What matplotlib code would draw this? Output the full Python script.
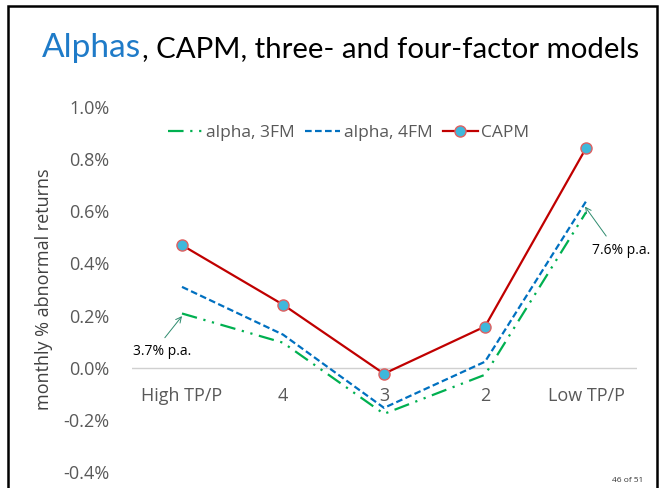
import matplotlib.pyplot as plt
from matplotlib.patches import Rectangle

categories = ['High TP/P', '4', '3', '2', 'Low TP/P']
capm = [0.47, 0.242, -0.023, 0.158, 0.842]
alpha_4fm = [0.31, 0.127, -0.154, 0.023, 0.638]
alpha_3fm = [0.208, 0.096, -0.177, -0.027, 0.596]
yticks = [-0.4, -0.2, 0.0, 0.2, 0.4, 0.6, 0.8, 1.0]

plt.rcParams['font.family'] = ['Open Sans', 'DejaVu Sans']

fig = plt.figure(figsize=(6.65, 4.88), dpi=100)

# slide frame
fig.patches.append(Rectangle((8 / 665, -0.05), 649 / 665, 1 - 6 / 488 + 0.05,
                             transform=fig.transFigure, fill=False,
                             edgecolor='black', lw=1.8))

# title in two colours, second part placed right after the first
t1 = fig.text(42 / 665, 1 - 57 / 488, 'Alphas', color='#1F7BC8', fontsize=24,
              family=['Lato', 'DejaVu Sans'], va='baseline')
fig.canvas.draw()
bb = t1.get_window_extent()
fig.text(bb.x1 / 665 + 0.001, 1 - 57 / 488, ', CAPM, three- and four-factor models',
         color='black', fontsize=21.2, family=['Lato', 'DejaVu Sans'],
         va='baseline')
fig.text(612 / 665, 1 - 482 / 488, '46 of 51', fontsize=6, color='#333333')

ax = fig.add_axes([131.5 / 665, 16 / 488, 505 / 665, 365 / 488])
x = list(range(len(categories)))

ax.plot(x, alpha_3fm, color='#00B050', lw=1.6, dashes=[7, 3, 1, 3, 1, 3],
        label='alpha, 3FM')
ax.plot(x, alpha_4fm, color='#0070C0', lw=1.6, dashes=[3, 1.5],
        label='alpha, 4FM')
ax.plot(x, capm, color='#C00000', lw=1.6, marker='o', markersize=8,
        markerfacecolor='#3FB8DB', markeredgecolor='#E06060', markeredgewidth=1,
        label='CAPM')

ax.axhline(0, color='#D0D0D0', lw=1, zorder=0)
ax.set_xlim(-0.5, 4.5)
ax.set_ylim(-0.4, 1.0)
ax.set_yticks(yticks)
ax.set_yticklabels([f'{v:.1f}%' for v in yticks])
ax.tick_params(axis='y', length=0, pad=16, labelsize=13, labelcolor='#595959')
ax.set_xticks([])
for s in ax.spines.values():
    s.set_visible(False)

for i, c in enumerate(categories):
    ax.text(i, -0.11, c, ha='center', va='center', fontsize=13, color='#595959')

ax.set_ylabel('monthly % abnormal returns', fontsize=13, color='#404040')
ax.yaxis.set_label_coords(-0.155, 0.5)

# annotations: arrow and text placed separately
ax.annotate('', xy=(0, alpha_3fm[0] - 0.01), xytext=(-0.17, 0.115),
            arrowprops=dict(arrowstyle='->', color='#2E8B6E', lw=0.7,
                            shrinkA=0, shrinkB=0))
ax.text(-0.49, 0.064, '3.7% p.a.', fontsize=10, va='center', ha='left')
ax.annotate('', xy=(3.99, alpha_4fm[4] - 0.02), xytext=(4.2, 0.505),
            arrowprops=dict(arrowstyle='->', color='#2E8B6E', lw=0.7,
                            shrinkA=0, shrinkB=0))
ax.text(4.06, 0.45, '7.6% p.a.', fontsize=10, va='center', ha='left')

ax.legend(loc='upper center', bbox_to_anchor=(0.43, 0.995), ncol=3, frameon=False,
          fontsize=12.5, handlelength=2, handletextpad=0.2, columnspacing=0.6,
          labelcolor='#595959')

fig.savefig('out.png', dpi=100)
